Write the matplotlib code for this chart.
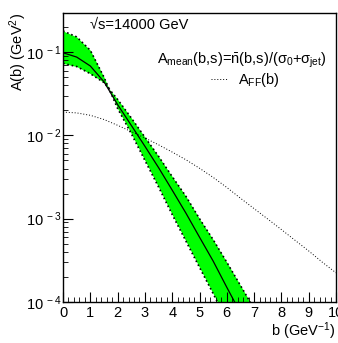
import numpy as np
import matplotlib
matplotlib.use("Agg")
import matplotlib.pyplot as plt
from matplotlib.ticker import MultipleLocator, LogLocator, NullFormatter, FixedLocator

plt.rcParams['font.family'] = ['Liberation Sans', 'DejaVu Sans']
plt.rcParams['mathtext.fontset'] = 'custom'
plt.rcParams['mathtext.rm'] = 'Liberation Sans'
plt.rcParams['mathtext.it'] = 'Liberation Sans'
plt.rcParams['mathtext.bf'] = 'Liberation Sans:bold'

# values (b in GeV^-1, A in GeV^2)
b_band = [0.0, 0.5, 1.0, 1.5, 2.0, 2.5, 3.0, 3.5, 4.0, 4.5, 5.0, 5.5, 6.0, 6.5, 7.0]
a_mean = [0.098, 0.087, 0.068, 0.044, 0.0234, 0.0132, 0.0074, 0.0041, 0.0022,
          0.00117, 0.00060, 0.00031, 0.00015, 7.4e-5, 3.5e-5]
a_upper = [0.179, 0.152, 0.105, 0.050, 0.021, 0.0105, 0.0050, 0.0024, 0.00112,
           0.00054, 0.00026, 0.000126, 6.0e-5, 2.9e-5, 1.4e-5]
a_lower = [0.073, 0.067, 0.055, 0.043, 0.027, 0.0162, 0.0095, 0.0056, 0.0032,
           0.00186, 0.00100, 0.00056, 0.00030, 0.000158, 8.3e-5]

b_ff = [0.0, 0.5, 1.0, 1.5, 2.0, 2.5, 3.0, 3.5, 4.0, 4.5, 5.0, 5.5, 6.0, 6.5,
        7.0, 7.5, 8.0, 8.5, 9.0, 9.5, 10.0]
a_ff = [0.019, 0.0186, 0.0174, 0.0155, 0.0132, 0.0111, 0.0093, 0.0077, 0.0063,
        0.0051, 0.00403, 0.00313, 0.00237, 0.00176, 0.00132, 0.00099, 0.00074,
        0.00055, 0.00041, 0.00030, 0.000224]

ytick_vals = [1e-4, 1e-3, 1e-2, 1e-1]
ytick_labels = [r'$10^{\ -4}$', r'$10^{\ -3}$', r'$10^{\ -2}$', r'$10^{\ -1}$']

fig = plt.figure(figsize=(3.38, 3.43), dpi=100)
ax = fig.add_axes([63/338, 1-302/343, 273/338, 289/343])

ax.fill_between(b_band, a_lower, a_upper, color='#00ff00', lw=0)
ax.plot(b_band, a_upper, color='k', ls=':', lw=1.2)
ax.plot(b_band, a_lower, color='k', ls=':', lw=1.2)
ax.plot(b_band, a_mean, color='k', lw=0.9)
ax.plot(b_ff, a_ff, color='k', ls=(0, (1, 2)), lw=0.7, label=r'A$_{FF}$(b)')

ax.set_yscale('log')
ax.set_xlim(0, 10)
ax.set_ylim(1e-4, 0.294)

ax.xaxis.set_major_locator(MultipleLocator(1))
ax.xaxis.set_minor_locator(MultipleLocator(0.2))
ax.yaxis.set_major_locator(FixedLocator(ytick_vals))
ax.yaxis.set_minor_locator(LogLocator(base=10, subs=np.arange(2, 10)))
ax.yaxis.set_minor_formatter(NullFormatter())
ax.set_yticklabels(ytick_labels)

ax.tick_params(which='both', direction='in', top=False, right=False, labelsize=10.5)
ax.tick_params(axis='x', which='major', length=7, pad=3)
ax.tick_params(axis='y', which='major', length=7, pad=1)
ax.tick_params(which='minor', length=3.5)
for s in ax.spines.values():
    s.set_linewidth(1.0)

ax.set_xlabel(r'b (GeV$^{-1}$)', fontsize=10.5, loc='right', labelpad=0)
ax.set_ylabel(r'A(b) (GeV$^{2}$)', fontsize=10.5, loc='top')
ax.yaxis.set_label_coords(-0.125, 1.0)

ax.text(0.099, 0.958, '\u221as=14000 GeV', transform=ax.transAxes,
        fontsize=10.5, va='center', ha='left')
ax.text(0.965, 0.837, r'A$_{mean}$(b,s)=$\bar{\mathrm{n}}$(b,s)/($\sigma_0$+$\sigma_{jet}$)',
        transform=ax.transAxes, fontsize=10.5, va='center', ha='right')

ax.legend(loc='upper left', bbox_to_anchor=(0.542, 0.80), frameon=False,
          fontsize=10.5, handlelength=1.1, handletextpad=0.75,
          borderpad=0, borderaxespad=0)

fig.savefig('out.png', dpi=100)
